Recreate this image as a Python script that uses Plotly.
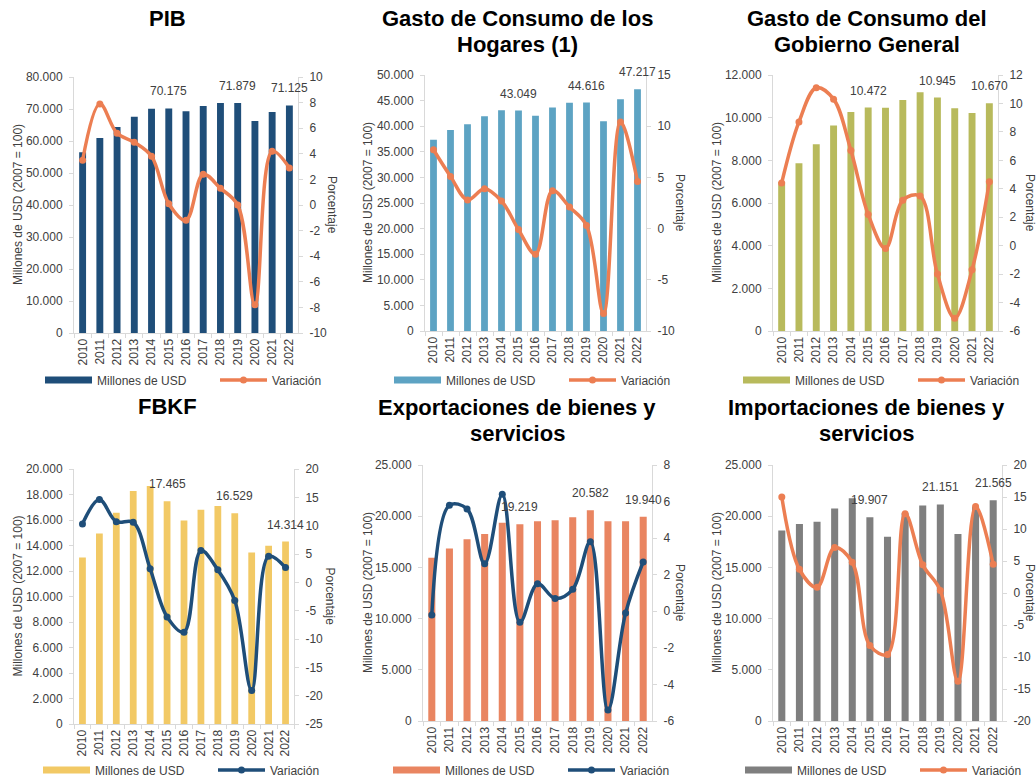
import plotly.graph_objects as go

W, H = 1036, 778

years = [str(y) for y in range(2010, 2023)]
labeled_years = ["2015", "2019", "2022"]

# Millones de USD (2007 = 100) and annual variation (%)
pib_musd = [56481, 60925, 64362, 67546, 70105, 70175, 69314, 70956, 71871, 71879, 66282, 69089, 71125]
pib_var = [3.5, 7.9, 5.6, 4.9, 3.8, 0.1, -1.2, 2.4, 1.3, 0.0, -7.8, 4.2, 2.9]

hogares_musd = [37350, 39270, 40390, 41960, 43100, 43049, 42050, 43660, 44600, 44616, 40980, 45280, 47217]
hogares_var = [7.7, 5.1, 2.8, 3.9, 2.7, -0.1, -2.5, 3.7, 2.1, 0.3, -8.3, 10.4, 4.6]

gobierno_musd = [6990, 7860, 8750, 9630, 10270, 10472, 10460, 10830, 11190, 10945, 10440, 10220, 10670]
gobierno_var = [4.4, 8.7, 11.1, 10.3, 6.7, 2.2, -0.2, 3.2, 3.5, -2.0, -5.1, -1.7, 4.5]

fbkf_musd = [13060, 14950, 16570, 18270, 18660, 17465, 15970, 16800, 17100, 16529, 13450, 13980, 14314]
fbkf_var = [10.3, 14.6, 10.7, 10.6, 2.4, -6.1, -8.8, 5.6, 2.2, -3.2, -19.1, 4.6, 2.6]

export_musd = [15950, 16850, 17750, 18250, 19350, 19219, 19500, 19600, 19900, 20582, 19500, 19500, 19940]
export_var = [-0.2, 5.8, 5.6, 2.6, 6.4, -0.6, 1.5, 0.7, 1.2, 3.8, -5.4, -0.1, 2.7]

import_musd = [18600, 19250, 19450, 20750, 21760, 19907, 18000, 20300, 21050, 21151, 18270, 20900, 21565]
import_var = [15.0, 3.7, 0.9, 7.1, 4.8, -8.2, -9.6, 12.4, 4.4, 0.4, -13.8, 13.5, 4.5]

titles = [
    ["PIB"],
    ["Gasto de Consumo de los", "Hogares (1)"],
    ["Gasto de Consumo del", "Gobierno General"],
    ["FBKF"],
    ["Exportaciones de bienes y", "servicios"],
    ["Importaciones de bienes y", "servicios"],
]
series_musd = [pib_musd, hogares_musd, gobierno_musd, fbkf_musd, export_musd, import_musd]
series_var = [pib_var, hogares_var, gobierno_var, fbkf_var, export_var, import_var]
left_scales = [(0, 80000, 10000), (0, 50000, 5000), (0, 12000, 2000),
               (0, 20000, 2000), (0, 25000, 5000), (0, 25000, 5000)]
right_scales = [(-10, 10, 2), (-10, 15, 5), (-6, 12, 2),
                (-25, 20, 5), (-6, 8, 2), (-20, 20, 5)]

NAVY = "#1F4E79"
ORANGE = "#EC7E52"
bar_colors = ["#1F4E79", "#5DA3C3", "#B8BA5C", "#F2C965", "#E98561", "#7F7F7F"]
line_colors = [ORANGE, ORANGE, ORANGE, NAVY, NAVY, ORANGE]

# Panel geometry in pixels: plot box (left, top, right, bottom), title centre
# (x, first-line y), axis-title x positions and legend anchor
boxes = [(74, 77, 298, 333), (425, 75, 646, 331), (773, 75, 998, 331),
         (74, 469, 294, 724), (423, 465, 652, 721), (773, 465, 1002, 721)]
title_pos = [(167, 18), (517, 18), (867, 18), (167, 406), (517, 407), (866, 407)]
TITLE_LINE = 26
ltitle_x = [18, 368, 717, 17, 368, 717]
rtitle_x = [332, 680, 1030, 330, 680, 1030]
legend_pos = [(40, 380), (389, 380), (738, 380), (38, 770), (388, 770), (740, 770)]

TXT = "#404040"
AX = "#D9D9D9"
FONT = "Liberation Sans, Arial, sans-serif"


def px(x):
    return x / W


def py(y):
    return 1 - y / H


fig = go.Figure()
annotations = []
layout = dict(
    width=W, height=H, margin=dict(l=0, r=0, t=0, b=0, autoexpand=False),
    paper_bgcolor="white", plot_bgcolor="white",
    font=dict(family=FONT, size=12, color=TXT),
    bargap=0.6, showlegend=True,
)

for i in range(6):
    n = i + 1
    xa = f"x{n}"
    yl = f"y{2 * n - 1}"
    yr = f"y{2 * n}"
    leg = "legend" if n == 1 else f"legend{n}"
    l, t, r, b = boxes[i]

    fig.add_trace(go.Bar(
        x=years, y=series_musd[i], xaxis=xa, yaxis=yl,
        marker=dict(color=bar_colors[i], line=dict(width=0)),
        showlegend=False, hoverinfo="x+y",
    ))
    # legend swatch for the bars
    fig.add_trace(go.Scatter(
        x=[None], y=[None], xaxis=xa, yaxis=yl, mode="lines",
        line=dict(color=bar_colors[i], width=7),
        name="Millones de USD", legend=leg, hoverinfo="skip",
    ))
    fig.add_trace(go.Scatter(
        x=years, y=series_var[i], xaxis=xa, yaxis=yr,
        mode="lines+markers", line=dict(color=line_colors[i], width=3.5, shape="spline", smoothing=1),
        marker=dict(color=line_colors[i], size=7),
        name="Variación", legend=leg,
    ))

    lo, hi, st = left_scales[i]
    lvals = list(range(lo, hi + 1, st))
    rlo, rhi, rst = right_scales[i]
    rvals = list(range(rlo, rhi + 1, rst))

    layout[f"xaxis{n}"] = dict(
        domain=[px(l), px(r)], anchor=yl, type="category",
        categoryorder="array", categoryarray=years,
        range=[-0.5, len(years) - 0.5],
        showline=True, linecolor=AX, linewidth=1, showgrid=False,
        ticks="outside", ticklen=4, tickcolor=AX, tickson="boundaries",
        tickangle=-90, tickfont=dict(size=12, color=TXT), fixedrange=True,
    )
    layout[f"yaxis{2 * n - 1}"] = dict(
        domain=[py(b), py(t)], anchor=xa, range=[lo, hi],
        tickvals=lvals, ticktext=[f"{v:,}".replace(",", ".") for v in lvals],
        showline=True, linecolor=AX, linewidth=1, showgrid=False, zeroline=False,
        ticks="outside", ticklen=4, tickcolor=AX, ticklabelstandoff=4,
        tickfont=dict(size=12, color=TXT), fixedrange=True,
    )
    layout[f"yaxis{2 * n}"] = dict(
        domain=[py(b), py(t)], anchor=xa, overlaying=yl, side="right",
        range=[rlo, rhi], tickvals=rvals, ticktext=[str(v) for v in rvals],
        showline=True, linecolor=AX, linewidth=1, showgrid=False, zeroline=False,
        ticks="outside", ticklen=4, tickcolor=AX, ticklabelstandoff=4,
        tickfont=dict(size=12, color=TXT), fixedrange=True,
    )

    lx, ly = legend_pos[i]
    layout[leg] = dict(
        orientation="h", xref="container", yref="container",
        x=px(lx), y=py(ly), xanchor="left", yanchor="middle",
        font=dict(size=12, color=TXT), bgcolor="rgba(0,0,0,0)",
        itemwidth=47, entrywidth=113,
        itemclick=False, itemdoubleclick=False,
    )

    # chart title, one annotation per line
    tx, ty = title_pos[i]
    for j, line in enumerate(titles[i]):
        annotations.append(dict(
            text=f"<b>{line}</b>", x=px(tx), y=py(ty + j * TITLE_LINE),
            xref="paper", yref="paper",
            xanchor="center", yanchor="middle", showarrow=False,
            font=dict(size=22, color="#000000", family=FONT),
        ))
    # axis titles
    annotations.append(dict(
        text="Millones de USD (2007 = 100)", x=px(ltitle_x[i]), y=py((t + b) / 2),
        xref="paper", yref="paper", textangle=-90, showarrow=False,
        xanchor="center", yanchor="middle", font=dict(size=12, color=TXT),
    ))
    annotations.append(dict(
        text="Porcentaje", x=px(rtitle_x[i]), y=py((t + b) / 2),
        xref="paper", yref="paper", textangle=90, showarrow=False,
        xanchor="center", yanchor="middle", font=dict(size=12, color=TXT),
    ))
    # value labels on selected years (category index on the x axis)
    for yr_lab in labeled_years:
        k = years.index(yr_lab)
        v = series_musd[i][k]
        annotations.append(dict(
            text=f"{v:,}".replace(",", "."), x=k, y=v, xref=xa, yref=yl,
            yshift=17, showarrow=False, xanchor="center", yanchor="middle",
            font=dict(size=12, color=TXT),
        ))

layout["annotations"] = annotations
fig.update_layout(**layout)
fig.write_html("out.html", config={"displayModeBar": False})
